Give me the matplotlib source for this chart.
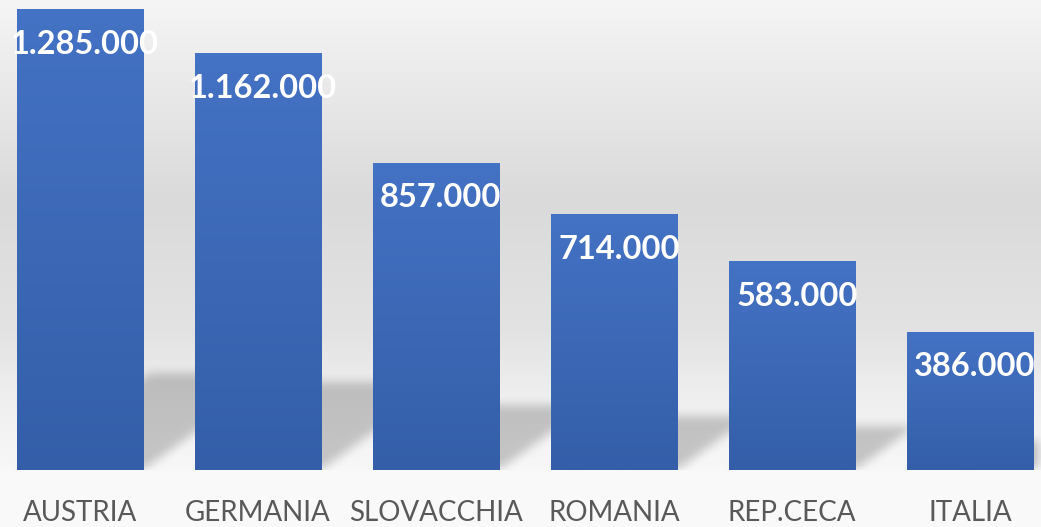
import numpy as np
import matplotlib.pyplot as plt

paesi = ["AUSTRIA", "GERMANIA", "SLOVACCHIA", "ROMANIA", "REP.CECA", "ITALIA"]
valori = [1285000, 1162000, 857000, 714000, 583000, 386000]

W, H = 1041, 527
ax_h = 470
fig = plt.figure(figsize=(W / 100, H / 100), dpi=100)

# sfondo sfumato
bg = fig.add_axes([0, 0, 1, 1], zorder=0)
bg.axis("off")
yy = np.linspace(0, 1, H)
stops_y = [0.0, 0.38, 0.63, 0.75, 0.89, 0.9, 1.0]
stops_v = [0.96, 0.855, 0.89, 0.935, 0.97, 0.98, 0.98]
g = np.interp(yy, stops_y, stops_v)
bg_img = np.repeat(g[:, None], 10, axis=1)
bg.imshow(np.dstack([bg_img] * 3), aspect="auto", extent=(0, 1, 0, 1), origin="upper")
bg.set_xlim(0, 1)
bg.set_ylim(0, 1)

ax = fig.add_axes([0, (H - ax_h) / H, 1, ax_h / H], zorder=1)
ax.patch.set_alpha(0)
passo = 178
x_sin = -80 / passo
x_des = x_sin + W / passo
y_max = 1310000
ax.set_xlim(x_sin, x_des)
ax.set_ylim(0, y_max)
larg = 0.708

# ombre sfocate dietro le barre
px_y = ax_h / y_max
X, Y = np.meshgrid(np.arange(W) + 0.5, np.arange(ax_h) + 0.5)
mask = np.zeros((ax_h, W))
pend = 0.73
for i, v in enumerate(valori):
    x0 = (i - larg / 2 - x_sin) * passo
    x1 = (i + larg / 2 - x_sin) * passo
    alto = 0.21 * v * px_y
    xs = X - Y / pend
    mask[(Y <= alto) & (xs >= x0) & (xs <= x1)] = 1.0

def sfoca(a, k):
    ker = np.ones(k) / k
    a = np.apply_along_axis(lambda r: np.convolve(r, ker, mode="same"), 1, a)
    a = np.apply_along_axis(lambda c: np.convolve(c, ker, mode="same"), 0, a)
    return a

mask = sfoca(sfoca(mask, 11), 11)
ombra = np.zeros((ax_h, W, 4))
ombra[..., 3] = mask * 0.2
ax.imshow(ombra, extent=(x_sin, x_des, 0, y_max), origin="lower", aspect="auto", zorder=1)

# barre con sfumatura
barre = ax.bar(range(len(paesi)), valori, width=larg, color="#4472C4", zorder=2)
top_c = np.array([68, 114, 196]) / 255
bot_c = np.array([52, 94, 168]) / 255
t = np.linspace(0, 1, 100)[:, None]
grad = (top_c * (1 - t) + bot_c * t)[:, None, :]
for b in barre:
    x0 = b.get_x()
    im = ax.imshow(grad, extent=(x0, x0 + b.get_width(), 0, b.get_height()),
                   origin="upper", aspect="auto", zorder=3)
    im.set_clip_path(b)
ax.set_xlim(x_sin, x_des)
ax.set_ylim(0, y_max)

for i, v in enumerate(valori):
    testo = f"{v:,}".replace(",", ".")
    ax.annotate(testo, (i, v), xytext=(3.5, -25.5), textcoords="offset points",
                ha="center", va="center", color="white", fontsize=23.5,
                fontweight="bold", family="Lato", zorder=5)

ax.set_xticks(range(len(paesi)), paesi)
ax.tick_params(axis="x", length=0, pad=21.5, labelsize=20, labelcolor="#595959")
for lab in ax.get_xticklabels():
    lab.set_family("Lato")
ax.set_yticks([])
for s in ax.spines.values():
    s.set_visible(False)

fig.savefig("out.png", dpi=100)
